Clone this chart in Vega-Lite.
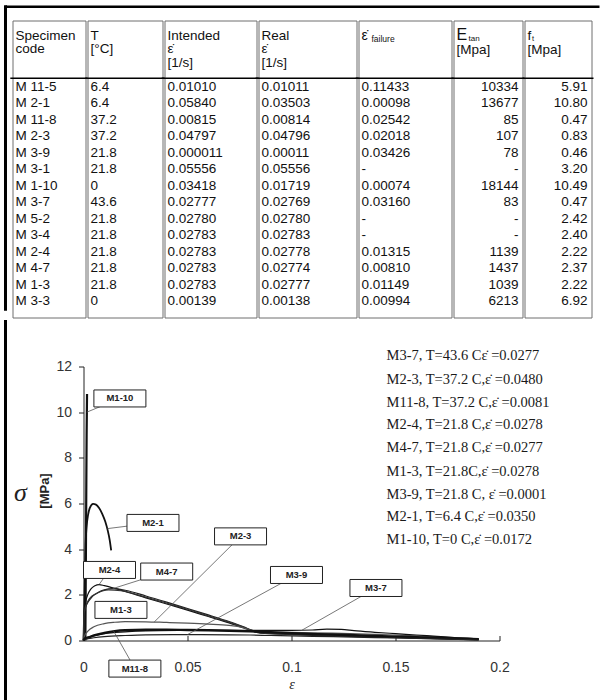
{
"$schema": "https://vega.github.io/schema/vega-lite/v6.json",
"padding": {"left": 2.5, "top": 3.5, "right": 0, "bottom": 0},
"background": "white",
"config": {"view": {"stroke": "#6e6e6e", "strokeWidth": 1}, "font": "Liberation Sans"},
"datasets": {
"table": [
{"i":0,"code":"M 11-5","T":"6.4","int":"0.01010","real":"0.01011","fail":"0.11433","Etan":"10334","ft":"5.91"},
{"i":1,"code":"M 2-1","T":"6.4","int":"0.05840","real":"0.03503","fail":"0.00098","Etan":"13677","ft":"10.80"},
{"i":2,"code":"M 11-8","T":"37.2","int":"0.00815","real":"0.00814","fail":"0.02542","Etan":"85","ft":"0.47"},
{"i":3,"code":"M 2-3","T":"37.2","int":"0.04797","real":"0.04796","fail":"0.02018","Etan":"107","ft":"0.83"},
{"i":4,"code":"M 3-9","T":"21.8","int":"0.000011","real":"0.00011","fail":"0.03426","Etan":"78","ft":"0.46"},
{"i":5,"code":"M 3-1","T":"21.8","int":"0.05556","real":"0.05556","fail":"-","Etan":"-","ft":"3.20"},
{"i":6,"code":"M 1-10","T":"0","int":"0.03418","real":"0.01719","fail":"0.00074","Etan":"18144","ft":"10.49"},
{"i":7,"code":"M 3-7","T":"43.6","int":"0.02777","real":"0.02769","fail":"0.03160","Etan":"83","ft":"0.47"},
{"i":8,"code":"M 5-2","T":"21.8","int":"0.02780","real":"0.02780","fail":"-","Etan":"-","ft":"2.42"},
{"i":9,"code":"M 3-4","T":"21.8","int":"0.02783","real":"0.02783","fail":"-","Etan":"-","ft":"2.40"},
{"i":10,"code":"M 2-4","T":"21.8","int":"0.02783","real":"0.02778","fail":"0.01315","Etan":"1139","ft":"2.22"},
{"i":11,"code":"M 4-7","T":"21.8","int":"0.02783","real":"0.02774","fail":"0.00810","Etan":"1437","ft":"2.37"},
{"i":12,"code":"M 1-3","T":"21.8","int":"0.02783","real":"0.02777","fail":"0.01149","Etan":"1039","ft":"2.22"},
{"i":13,"code":"M 3-3","T":"0","int":"0.00139","real":"0.00138","fail":"0.00994","Etan":"6213","ft":"6.92"}
],
"legend": [
{"id":"M3-7","ly":12.44,"desc":"M3-7, T=43.6 C\u03b5\u0307 =0.0277"},
{"id":"M2-3","ly":11.43,"desc":"M2-3, T=37.2 C,\u03b5\u0307 =0.0480"},
{"id":"M11-8","ly":10.42,"desc":"M11-8, T=37.2 C,\u03b5\u0307 =0.0081"},
{"id":"M2-4","ly":9.42,"desc":"M2-4, T=21.8 C,\u03b5\u0307 =0.0278"},
{"id":"M4-7","ly":8.41,"desc":"M4-7, T=21.8 C,\u03b5\u0307 =0.0277"},
{"id":"M1-3","ly":7.4,"desc":"M1-3, T=21.8C,\u03b5\u0307 =0.0278"},
{"id":"M3-9","ly":6.39,"desc":"M3-9, T=21.8 C, \u03b5\u0307 =0.0001"},
{"id":"M2-1","ly":5.39,"desc":"M2-1, T=6.4 C,\u03b5\u0307 =0.0350"},
{"id":"M1-10","ly":4.38,"desc":"M1-10, T=0 C,\u03b5\u0307 =0.0172"}
],
"labels": [
{"id":"M1-10","lx":0.0175,"ly":10.6,"px":0.0016,"py":10.0},
{"id":"M2-1","lx":0.0334,"ly":5.15,"px":0.0115,"py":4.9},
{"id":"M2-3","lx":0.0755,"ly":4.56,"px":0.034,"py":0.81},
{"id":"M2-4","lx":0.0125,"ly":3.09,"px":0.0075,"py":2.45},
{"id":"M4-7","lx":0.04,"ly":3.02,"px":0.014,"py":2.27},
{"id":"M3-9","lx":0.1024,"ly":2.87,"px":0.05,"py":0.26},
{"id":"M3-7","lx":0.1406,"ly":2.3,"px":0.105,"py":0.45},
{"id":"M1-3","lx":0.018,"ly":1.34,"px":0.018,"py":1.34},
{"id":"M11-8","lx":0.0247,"ly":-1.23,"px":0.0145,"py":0.41}
],
"curves": [
{"id":"M1-10","e":0.0009,"s":0},{"id":"M1-10","e":0.0011,"s":3},{"id":"M1-10","e":0.0013,"s":6},{"id":"M1-10","e":0.0015,"s":9},{"id":"M1-10","e":0.0017,"s":10.8},
{"id":"M2-1","e":0,"s":0},{"id":"M2-1","e":0.0004,"s":1.5},{"id":"M2-1","e":0.0007,"s":3},{"id":"M2-1","e":0.001,"s":4.2},{"id":"M2-1","e":0.0015,"s":5.0},{"id":"M2-1","e":0.0022,"s":5.5},{"id":"M2-1","e":0.003,"s":5.8},{"id":"M2-1","e":0.0046,"s":5.98},{"id":"M2-1","e":0.006,"s":5.95},{"id":"M2-1","e":0.0075,"s":5.8},{"id":"M2-1","e":0.009,"s":5.55},{"id":"M2-1","e":0.0105,"s":5.2},{"id":"M2-1","e":0.0117,"s":4.8},{"id":"M2-1","e":0.0126,"s":4.4},{"id":"M2-1","e":0.0133,"s":3.95},
{"id":"M2-4","e":0,"s":0},{"id":"M2-4","e":0.0002,"s":1.0},{"id":"M2-4","e":0.0005,"s":1.45},{"id":"M2-4","e":0.001,"s":1.7},{"id":"M2-4","e":0.002,"s":2.0},{"id":"M2-4","e":0.0035,"s":2.25},{"id":"M2-4","e":0.0055,"s":2.4},{"id":"M2-4","e":0.0075,"s":2.45},{"id":"M2-4","e":0.01,"s":2.4},{"id":"M2-4","e":0.02,"s":2.15},{"id":"M2-4","e":0.03,"s":1.87},{"id":"M2-4","e":0.04,"s":1.6},{"id":"M2-4","e":0.05,"s":1.33},{"id":"M2-4","e":0.06,"s":1.05},{"id":"M2-4","e":0.07,"s":0.77},{"id":"M2-4","e":0.077,"s":0.55},{"id":"M2-4","e":0.081,"s":0.42},{"id":"M2-4","e":0.085,"s":0.32},{"id":"M2-4","e":0.1,"s":0.26},{"id":"M2-4","e":0.12,"s":0.2},{"id":"M2-4","e":0.15,"s":0.12},{"id":"M2-4","e":0.17,"s":0.08},{"id":"M2-4","e":0.19,"s":0.04},
{"id":"M4-7","e":0,"s":0},{"id":"M4-7","e":0.0002,"s":0.9},{"id":"M4-7","e":0.0005,"s":1.25},{"id":"M4-7","e":0.001,"s":1.45},{"id":"M4-7","e":0.002,"s":1.65},{"id":"M4-7","e":0.004,"s":1.9},{"id":"M4-7","e":0.007,"s":2.1},{"id":"M4-7","e":0.01,"s":2.22},{"id":"M4-7","e":0.014,"s":2.27},{"id":"M4-7","e":0.02,"s":2.2},{"id":"M4-7","e":0.03,"s":1.95},{"id":"M4-7","e":0.04,"s":1.68},{"id":"M4-7","e":0.05,"s":1.4},{"id":"M4-7","e":0.06,"s":1.12},{"id":"M4-7","e":0.07,"s":0.83},{"id":"M4-7","e":0.077,"s":0.6},{"id":"M4-7","e":0.081,"s":0.45},{"id":"M4-7","e":0.086,"s":0.36},{"id":"M4-7","e":0.1,"s":0.3},{"id":"M4-7","e":0.12,"s":0.24},{"id":"M4-7","e":0.15,"s":0.16},{"id":"M4-7","e":0.17,"s":0.1},{"id":"M4-7","e":0.19,"s":0.05},
{"id":"M1-3","e":0,"s":0},{"id":"M1-3","e":0.0002,"s":1.1},{"id":"M1-3","e":0.0006,"s":1.35},{"id":"M1-3","e":0.0015,"s":1.6},{"id":"M1-3","e":0.003,"s":1.85},{"id":"M1-3","e":0.006,"s":2.05},{"id":"M1-3","e":0.009,"s":2.17},{"id":"M1-3","e":0.012,"s":2.22},{"id":"M1-3","e":0.018,"s":2.18},{"id":"M1-3","e":0.03,"s":1.9},{"id":"M1-3","e":0.04,"s":1.64},{"id":"M1-3","e":0.05,"s":1.37},{"id":"M1-3","e":0.06,"s":1.08},{"id":"M1-3","e":0.07,"s":0.8},{"id":"M1-3","e":0.078,"s":0.55},{"id":"M1-3","e":0.082,"s":0.4},{"id":"M1-3","e":0.09,"s":0.3},{"id":"M1-3","e":0.11,"s":0.25},{"id":"M1-3","e":0.14,"s":0.18},{"id":"M1-3","e":0.17,"s":0.1},{"id":"M1-3","e":0.19,"s":0.05},
{"id":"M2-3","e":0,"s":0},{"id":"M2-3","e":0.0005,"s":0.2},{"id":"M2-3","e":0.002,"s":0.4},{"id":"M2-3","e":0.005,"s":0.6},{"id":"M2-3","e":0.01,"s":0.74},{"id":"M2-3","e":0.015,"s":0.8},{"id":"M2-3","e":0.02,"s":0.83},{"id":"M2-3","e":0.03,"s":0.82},{"id":"M2-3","e":0.04,"s":0.79},{"id":"M2-3","e":0.05,"s":0.76},{"id":"M2-3","e":0.06,"s":0.72},{"id":"M2-3","e":0.07,"s":0.66},{"id":"M2-3","e":0.076,"s":0.58},{"id":"M2-3","e":0.08,"s":0.47},{"id":"M2-3","e":0.085,"s":0.4},{"id":"M2-3","e":0.1,"s":0.36},{"id":"M2-3","e":0.12,"s":0.32},{"id":"M2-3","e":0.14,"s":0.27},{"id":"M2-3","e":0.16,"s":0.2},{"id":"M2-3","e":0.18,"s":0.12},{"id":"M2-3","e":0.19,"s":0.08},
{"id":"M11-8","e":0,"s":0},{"id":"M11-8","e":0.0005,"s":0.08},{"id":"M11-8","e":0.002,"s":0.12},{"id":"M11-8","e":0.005,"s":0.22},{"id":"M11-8","e":0.01,"s":0.33},{"id":"M11-8","e":0.015,"s":0.41},{"id":"M11-8","e":0.02,"s":0.45},{"id":"M11-8","e":0.03,"s":0.47},{"id":"M11-8","e":0.04,"s":0.47},{"id":"M11-8","e":0.05,"s":0.46},{"id":"M11-8","e":0.06,"s":0.45},{"id":"M11-8","e":0.07,"s":0.43},{"id":"M11-8","e":0.08,"s":0.4},{"id":"M11-8","e":0.09,"s":0.36},{"id":"M11-8","e":0.1,"s":0.32},{"id":"M11-8","e":0.12,"s":0.26},{"id":"M11-8","e":0.14,"s":0.2},{"id":"M11-8","e":0.16,"s":0.14},{"id":"M11-8","e":0.18,"s":0.08},{"id":"M11-8","e":0.19,"s":0.05},
{"id":"M3-9","e":0,"s":0},{"id":"M3-9","e":0.001,"s":0.06},{"id":"M3-9","e":0.005,"s":0.12},{"id":"M3-9","e":0.01,"s":0.17},{"id":"M3-9","e":0.02,"s":0.22},{"id":"M3-9","e":0.03,"s":0.25},{"id":"M3-9","e":0.05,"s":0.26},{"id":"M3-9","e":0.07,"s":0.25},{"id":"M3-9","e":0.08,"s":0.24},{"id":"M3-9","e":0.09,"s":0.22},{"id":"M3-9","e":0.1,"s":0.2},{"id":"M3-9","e":0.12,"s":0.17},{"id":"M3-9","e":0.14,"s":0.13},{"id":"M3-9","e":0.16,"s":0.09},{"id":"M3-9","e":0.18,"s":0.05},{"id":"M3-9","e":0.19,"s":0.03},
{"id":"M3-7","e":0,"s":0},{"id":"M3-7","e":0.001,"s":0.1},{"id":"M3-7","e":0.005,"s":0.2},{"id":"M3-7","e":0.01,"s":0.3},{"id":"M3-7","e":0.02,"s":0.38},{"id":"M3-7","e":0.03,"s":0.42},{"id":"M3-7","e":0.05,"s":0.44},{"id":"M3-7","e":0.07,"s":0.45},{"id":"M3-7","e":0.08,"s":0.44},{"id":"M3-7","e":0.09,"s":0.44},{"id":"M3-7","e":0.1,"s":0.44},{"id":"M3-7","e":0.11,"s":0.46},{"id":"M3-7","e":0.117,"s":0.5},{"id":"M3-7","e":0.124,"s":0.49},{"id":"M3-7","e":0.13,"s":0.43},{"id":"M3-7","e":0.14,"s":0.36},{"id":"M3-7","e":0.15,"s":0.3},{"id":"M3-7","e":0.16,"s":0.24},{"id":"M3-7","e":0.17,"s":0.18},{"id":"M3-7","e":0.18,"s":0.12},{"id":"M3-7","e":0.19,"s":0.07}
]
},
"spacing": 0,
"vconcat": [
{
"bounds": "flush",
"spacing": 2,
"hconcat": [
{"width": 73, "height": 297, "layer": [
 {"data": {"values": [{"t": "Specimen\ncode"}]}, "mark": {"type":"text","align":"left","baseline":"top","dx":3,"dy":3,"lineBreak":"\n","lineHeight":13.5,"fontSize":13.5,"color":"#111"},
  "encoding": {"x":{"datum":0,"type":"quantitative","scale":{"domain":[0,1]},"axis":null},"y":{"datum":-3.682,"type":"quantitative","scale":{"domain":[-3.682,13.5],"reverse":true},"axis":null},"text":{"field":"t"}}},
 {"data": {"name": "table"}, "mark": {"type":"text","align":"left","dx":3,"fontSize":13.5,"color":"#111"},
  "encoding": {"x":{"datum":0,"type":"quantitative"},"y":{"field":"i","type":"quantitative"},"text":{"field":"code"}}},
 {"data": {"values": [{}]}, "mark": {"type":"rule","color":"#000","strokeWidth":1.5}, "encoding": {"x":{"datum":-0.03,"type":"quantitative"},"x2":{"datum":1.03},"y":{"datum":-0.5,"type":"quantitative"}}},
 {"data": {"values": [{}]}, "mark": {"type":"rule","color":"#000","strokeWidth":3,"strokeCap":"square"}, "encoding": {"x":{"datum":-0.0959,"type":"quantitative"},"y":{"datum":-4.839,"type":"quantitative"},"y2":{"datum":13.5}}},
 {"data": {"values": [{}]}, "mark": {"type":"rule","color":"#000","strokeWidth":2.5}, "encoding": {"x":{"datum":-0.0959,"type":"quantitative"},"x2":{"datum":8.041},"y":{"datum":-4.839,"type":"quantitative"}}}
]},
{"width": 75, "height": 297, "layer": [
 {"data": {"values": [{"t": "T\n[\u00b0C]"}]}, "mark": {"type":"text","align":"left","baseline":"top","dx":3,"dy":3,"lineBreak":"\n","lineHeight":13.5,"fontSize":13.5,"color":"#111"},
  "encoding": {"x":{"datum":0,"type":"quantitative","scale":{"domain":[0,1]},"axis":null},"y":{"datum":-3.682,"type":"quantitative","scale":{"domain":[-3.682,13.5],"reverse":true},"axis":null},"text":{"field":"t"}}},
 {"data": {"name": "table"}, "mark": {"type":"text","align":"left","dx":3,"fontSize":13.5,"color":"#111"},
  "encoding": {"x":{"datum":0,"type":"quantitative"},"y":{"field":"i","type":"quantitative"},"text":{"field":"T"}}},
 {"data": {"values": [{}]}, "mark": {"type":"rule","color":"#000","strokeWidth":1.5}, "encoding": {"x":{"datum":-0.03,"type":"quantitative"},"x2":{"datum":1.03},"y":{"datum":-0.5,"type":"quantitative"}}}
]},
{"width": 92, "height": 297, "layer": [
 {"data": {"values": [{"t": "Intended\n\u03b5\u0307\n[1/s]"}]}, "mark": {"type":"text","align":"left","baseline":"top","dx":3,"dy":3,"lineBreak":"\n","lineHeight":13.5,"fontSize":13.5,"color":"#111"},
  "encoding": {"x":{"datum":0,"type":"quantitative","scale":{"domain":[0,1]},"axis":null},"y":{"datum":-3.682,"type":"quantitative","scale":{"domain":[-3.682,13.5],"reverse":true},"axis":null},"text":{"field":"t"}}},
 {"data": {"name": "table"}, "mark": {"type":"text","align":"left","dx":3,"fontSize":13.5,"color":"#111"},
  "encoding": {"x":{"datum":0,"type":"quantitative"},"y":{"field":"i","type":"quantitative"},"text":{"field":"int"}}},
 {"data": {"values": [{}]}, "mark": {"type":"rule","color":"#000","strokeWidth":1.5}, "encoding": {"x":{"datum":-0.03,"type":"quantitative"},"x2":{"datum":1.03},"y":{"datum":-0.5,"type":"quantitative"}}}
]},
{"width": 98, "height": 297, "layer": [
 {"data": {"values": [{"t": "Real\n\u03b5\u0307\n[1/s]"}]}, "mark": {"type":"text","align":"left","baseline":"top","dx":3,"dy":3,"lineBreak":"\n","lineHeight":13.5,"fontSize":13.5,"color":"#111"},
  "encoding": {"x":{"datum":0,"type":"quantitative","scale":{"domain":[0,1]},"axis":null},"y":{"datum":-3.682,"type":"quantitative","scale":{"domain":[-3.682,13.5],"reverse":true},"axis":null},"text":{"field":"t"}}},
 {"data": {"name": "table"}, "mark": {"type":"text","align":"left","dx":3,"fontSize":13.5,"color":"#111"},
  "encoding": {"x":{"datum":0,"type":"quantitative"},"y":{"field":"i","type":"quantitative"},"text":{"field":"real"}}},
 {"data": {"values": [{}]}, "mark": {"type":"rule","color":"#000","strokeWidth":1.5}, "encoding": {"x":{"datum":-0.03,"type":"quantitative"},"x2":{"datum":1.03},"y":{"datum":-0.5,"type":"quantitative"}}}
]},
{"width": 93, "height": 297, "layer": [
 {"data": {"values": [{"t": "\u03b5\u0307"}]}, "mark": {"type":"text","align":"left","baseline":"top","dx":3,"dy":3,"fontSize":14,"color":"#111"},
  "encoding": {"x":{"datum":0,"type":"quantitative","scale":{"domain":[0,1]},"axis":null},"y":{"datum":-3.682,"type":"quantitative","scale":{"domain":[-3.682,13.5],"reverse":true},"axis":null},"text":{"field":"t"}}},
 {"data": {"values": [{"t": "failure"}]}, "mark": {"type":"text","align":"left","baseline":"top","dx":13,"dy":9.5,"fontSize":8.5,"color":"#111"},
  "encoding": {"x":{"datum":0,"type":"quantitative"},"y":{"datum":-3.682,"type":"quantitative"},"text":{"field":"t"}}},
 {"data": {"name": "table"}, "mark": {"type":"text","align":"left","dx":3,"fontSize":13.5,"color":"#111"},
  "encoding": {"x":{"datum":0,"type":"quantitative"},"y":{"field":"i","type":"quantitative"},"text":{"field":"fail"}}},
 {"data": {"values": [{}]}, "mark": {"type":"rule","color":"#000","strokeWidth":1.5}, "encoding": {"x":{"datum":-0.03,"type":"quantitative"},"x2":{"datum":1.03},"y":{"datum":-0.5,"type":"quantitative"}}}
]},
{"width": 69, "height": 297, "layer": [
 {"data": {"values": [{"t": "E"}]}, "mark": {"type":"text","align":"left","baseline":"top","dx":3,"dy":1.5,"fontSize":16,"color":"#111"},
  "encoding": {"x":{"datum":0,"type":"quantitative","scale":{"domain":[0,1]},"axis":null},"y":{"datum":-3.682,"type":"quantitative","scale":{"domain":[-3.682,13.5],"reverse":true},"axis":null},"text":{"field":"t"}}},
 {"data": {"values": [{"t": "tan"}]}, "mark": {"type":"text","align":"left","baseline":"top","dx":15,"dy":9.5,"fontSize":8,"color":"#111"},
  "encoding": {"x":{"datum":0,"type":"quantitative"},"y":{"datum":-3.682,"type":"quantitative"},"text":{"field":"t"}}},
 {"data": {"values": [{"t": "[Mpa]"}]}, "mark": {"type":"text","align":"left","baseline":"top","dx":3,"dy":17,"fontSize":13.5,"color":"#111"},
  "encoding": {"x":{"datum":0,"type":"quantitative"},"y":{"datum":-3.682,"type":"quantitative"},"text":{"field":"t"}}},
 {"data": {"name": "table"}, "mark": {"type":"text","align":"right","dx":-4,"fontSize":13.5,"color":"#111"},
  "encoding": {"x":{"datum":1,"type":"quantitative"},"y":{"field":"i","type":"quantitative"},"text":{"field":"Etan"}}},
 {"data": {"values": [{}]}, "mark": {"type":"rule","color":"#000","strokeWidth":1.5}, "encoding": {"x":{"datum":-0.03,"type":"quantitative"},"x2":{"datum":1.03},"y":{"datum":-0.5,"type":"quantitative"}}}
]},
{"width": 67, "height": 297, "layer": [
 {"data": {"values": [{"t": "f"}]}, "mark": {"type":"text","align":"left","baseline":"top","dx":3,"dy":3,"fontSize":13.5,"color":"#111"},
  "encoding": {"x":{"datum":0,"type":"quantitative","scale":{"domain":[0,1]},"axis":null},"y":{"datum":-3.682,"type":"quantitative","scale":{"domain":[-3.682,13.5],"reverse":true},"axis":null},"text":{"field":"t"}}},
 {"data": {"values": [{"t": "t"}]}, "mark": {"type":"text","align":"left","baseline":"top","dx":7.5,"dy":9.5,"fontSize":7.5,"color":"#111"},
  "encoding": {"x":{"datum":0,"type":"quantitative"},"y":{"datum":-3.682,"type":"quantitative"},"text":{"field":"t"}}},
 {"data": {"values": [{"t": "[Mpa]"}]}, "mark": {"type":"text","align":"left","baseline":"top","dx":3,"dy":17,"fontSize":13.5,"color":"#111"},
  "encoding": {"x":{"datum":0,"type":"quantitative"},"y":{"datum":-3.682,"type":"quantitative"},"text":{"field":"t"}}},
 {"data": {"name": "table"}, "mark": {"type":"text","align":"right","dx":-4,"fontSize":13.5,"color":"#111"},
  "encoding": {"x":{"datum":1,"type":"quantitative"},"y":{"field":"i","type":"quantitative"},"text":{"field":"ft"}}},
 {"data": {"values": [{}]}, "mark": {"type":"rule","color":"#000","strokeWidth":1.5}, "encoding": {"x":{"datum":-0.03,"type":"quantitative"},"x2":{"datum":1.03},"y":{"datum":-0.5,"type":"quantitative"}}}
]}
]
},
{
"bounds": "flush",
"spacing": 0,
"hconcat": [
{"width": 71, "height": 1, "view": {"stroke": null}, "data": {"values": [{}]}, "mark": {"type": "point", "opacity": 0}},
{"width": 416, "height": 274, "view": {"stroke": null},
 "layer": [
 {"data": {"name": "curves"},
  "mark": {"type": "line", "interpolate": "monotone", "strokeJoin": "round"},
  "encoding": {
   "x": {"field": "e", "type": "quantitative", "title": "\u03b5", "scale": {"domain": [0, 0.2], "nice": false, "zero": false},
     "axis": {"values": [0, 0.05, 0.1, 0.15, 0.2], "format": "~g", "title": "\u03b5", "grid": false, "labelFlush": false, "domainColor": "#222", "tickColor": "#222", "tickSize": -5, "labelPadding": 25, "labelFont": "Liberation Sans", "labelFontSize": 14, "labelColor": "#333", "titleFont": "Liberation Serif", "titleFontSize": 14, "titleFontStyle": "italic", "titleFontWeight": "normal", "titleColor": "#222", "titlePadding": 3}},
   "y": {"field": "s", "type": "quantitative", "title": "[MPa]", "scale": {"domain": [0, 12], "nice": false},
     "axis": {"values": [0, 2, 4, 6, 8, 10, 12], "title": "[MPa]", "grid": false, "labelFlush": false, "domainColor": "#222", "tickColor": "#222", "tickSize": 5, "labelPadding": 7, "labelFont": "Liberation Sans", "labelFontSize": 14, "labelColor": "#333", "titleFont": "Liberation Sans", "titleFontSize": 13, "titleFontWeight": "bold", "titleColor": "#222", "titlePadding": 4, "titleY": 124}},
   "color": {"field": "id", "type": "nominal", "scale": {"domain": ["M3-7","M2-3","M11-8","M2-4","M4-7","M1-3","M3-9","M2-1","M1-10"], "range": ["#111", "#555", "#111", "#111", "#222", "#333", "#222", "#111", "#111"]}, "legend": null},
   "strokeWidth": {"condition": [{"test": "datum.id === 'M11-8'", "value": 2.4}, {"test": "datum.id === 'M1-10'", "value": 2.2}, {"test": "datum.id === 'M2-1'", "value": 1.8}], "value": 1.2}
  }},
 {"data": {"name": "legend"}, "mark": {"type": "text", "align": "left", "font": "Liberation Serif", "fontSize": 14.5, "color": "#1a1a1a"},
  "encoding": {"x": {"datum": 0.1457, "type": "quantitative"}, "y": {"field": "ly", "type": "quantitative", "title": "[MPa]"}, "text": {"field": "desc"}}},
 {"data": {"values": [{}]}, "mark": {"type": "rule", "color": "#000", "strokeWidth": 3, "strokeCap": "square"},
  "encoding": {"x": {"datum": -0.0375, "type": "quantitative"}, "y": {"datum": 13.971, "type": "quantitative"}, "y2": {"datum": -2.7}}},
 {"data": {"name": "labels"}, "mark": {"type": "rule", "color": "#555", "strokeWidth": 0.8},
  "encoding": {"x": {"field": "lx", "type": "quantitative", "title": "\u03b5"}, "y": {"field": "ly", "type": "quantitative", "title": "[MPa]"}, "x2": {"field": "px"}, "y2": {"field": "py"}}},
 {"data": {"name": "labels"}, "mark": {"type": "point", "shape": "M-1,-0.327H1V0.327H-1Z", "size": 2704, "filled": true, "fill": "white", "stroke": "#222", "strokeWidth": 1, "opacity": 1},
  "encoding": {"x": {"field": "lx", "type": "quantitative", "title": "\u03b5"}, "y": {"field": "ly", "type": "quantitative", "title": "[MPa]"}}},
 {"data": {"name": "labels"}, "mark": {"type": "text", "font": "Liberation Sans", "fontWeight": "bold", "fontSize": 9.5, "color": "#222"},
  "encoding": {"x": {"field": "lx", "type": "quantitative", "title": "\u03b5"}, "y": {"field": "ly", "type": "quantitative", "title": "[MPa]"}, "text": {"field": "id"}}},
 {"data": {"values": [{"t": "\u03c3"}]}, "mark": {"type": "text", "font": "Liberation Serif", "fontStyle": "italic", "fontSize": 26, "color": "#222"},
  "encoding": {"x": {"datum": -0.0303, "type": "quantitative"}, "y": {"datum": 6.44, "type": "quantitative"}, "text": {"field": "t"}}}
 ]
}
]
}
]
}
